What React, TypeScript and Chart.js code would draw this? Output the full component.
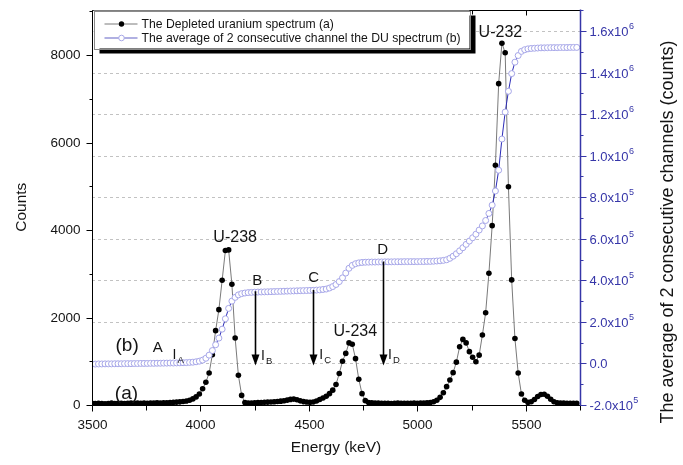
import React, { useEffect, useRef } from 'react';
import { Chart, registerables } from 'chart.js';

Chart.register(...registerables);

// ---------- data ----------
const energyKeV = [
  3500, 3515, 3530, 3545, 3560, 3575, 3590, 3605, 3620, 3635,
  3650, 3665, 3680, 3695, 3710, 3725, 3740, 3755, 3770, 3785,
  3800, 3815, 3830, 3845, 3860, 3875, 3890, 3905, 3920, 3935,
  3950, 3965, 3980, 3995, 4010, 4025, 4040, 4055, 4070, 4085,
  4100, 4115, 4130, 4145, 4160, 4175, 4190, 4205, 4220, 4235,
  4250, 4265, 4280, 4295, 4310, 4325, 4340, 4355, 4370, 4385,
  4400, 4415, 4430, 4445, 4460, 4475, 4490, 4505, 4520, 4535,
  4550, 4565, 4580, 4595, 4610, 4625, 4640, 4655, 4670, 4685,
  4700, 4715, 4730, 4745, 4760, 4775, 4790, 4805, 4820, 4835,
  4850, 4865, 4880, 4895, 4910, 4925, 4940, 4955, 4970, 4985,
  5000, 5015, 5030, 5045, 5060, 5075, 5090, 5105, 5120, 5135,
  5150, 5165, 5180, 5195, 5210, 5225, 5240, 5255, 5270, 5285,
  5300, 5315, 5330, 5345, 5360, 5375, 5390, 5405, 5420, 5435,
  5450, 5465, 5480, 5495, 5510, 5525, 5540, 5555, 5570, 5585,
  5600, 5615, 5630, 5645, 5660, 5675, 5690, 5705, 5720, 5735,
];

const duSpectrum = [
  38, 32, 40, 35, 30, 36, 42, 34, 38, 41,
  36, 40, 44, 37, 42, 39, 45, 41, 47, 43,
  48, 45, 52, 50, 56, 60, 66, 72, 80, 92,
  110, 140, 185, 250, 370, 520, 730, 1150, 1700, 2180,
  2850, 3530, 3545, 2760, 1530, 680, 220, 55, 42, 46,
  50, 55, 58, 62, 66, 70, 74, 80, 88, 96,
  112, 128, 135, 120, 95, 78, 68, 64, 70, 90,
  125, 160, 200, 260, 340, 470, 720, 1000, 1180, 1420,
  1390, 1060, 590, 260, 100, 58, 48, 44, 42, 40,
  38, 40, 36, 39, 42, 38, 41, 37, 40, 43,
  40, 44, 46, 50, 58, 75, 110, 175, 280, 420,
  570, 740, 980, 1330, 1500, 1420, 1220, 1090, 990, 1140,
  1600, 2110, 3010, 4100, 5480, 7345, 8270, 8050, 4990, 2860,
  1520, 730, 250, 110, 60, 75, 125, 195, 240, 245,
  200, 130, 75, 52, 45, 42, 40, 38, 40, 37,
];

const avgTwoChannels = [
  -3000, -3000, -2500, -2500, -2000, -2000, -2000, -1500, -1500, -1500,
  -1000, -1000, -1000, -500, -500, 0, 0, 0, 500, 500,
  1000, 1000, 1500, 1500, 2000, 2000, 2500, 3000, 3500, 4000,
  5000, 6000, 8000, 11000, 16000, 25000, 40000, 62000, 90000, 122000,
  165000, 215000, 265000, 300000, 318000, 330000, 336000, 339000, 341000, 342000,
  343000, 343500, 344000, 344500, 345000, 345500, 346000, 346500, 347000, 347500,
  348000, 348500, 349000, 349500, 350000, 350500, 351000, 351500, 352000, 353000,
  354000, 356000, 358000, 363000, 370000, 380000, 394000, 412000, 435000, 458000,
  472000, 480000, 484000, 486000, 487000, 487500, 488000, 488000, 488500, 488500,
  489000, 489000, 489000, 489500, 489500, 489500, 490000, 490000, 490000, 490000,
  490000, 490500, 490500, 491000, 491000, 492000, 493000, 494000, 496000, 499000,
  506000, 516000, 528000, 542000, 557000, 573000, 589000, 605000, 622000, 642000,
  662000, 688000, 722000, 762000, 830000, 930000, 1080000, 1210000, 1310000, 1395000,
  1450000, 1482000, 1502000, 1510000, 1514000, 1516000, 1517000, 1518000, 1519000, 1519000,
  1519500, 1520000, 1520000, 1520000, 1520500, 1520500, 1520500, 1521000, 1521000, 1521000,
];

const xTicks = [3500, 4000, 4500, 5000, 5500];
const xMinorTicks = [3750, 4250, 4750, 5250, 5750];
const leftTicks = [0, 2000, 4000, 6000, 8000];
const leftMinorTicks = [1000, 3000, 5000, 7000, 9000];
const rightTicks = [-200000, 0, 200000, 400000, 600000, 800000, 1000000, 1200000, 1400000, 1600000];
const rightTickLabels = [
  ['-2.0x10', '5'], ['0.0', ''], ['2.0x10', '5'], ['4.0x10', '5'], ['6.0x10', '5'],
  ['8.0x10', '5'], ['1.0x10', '6'], ['1.2x10', '6'], ['1.4x10', '6'], ['1.6x10', '6'],
];
const rightMinorTicks = [-100000, 100000, 300000, 500000, 700000, 900000, 1100000, 1300000, 1500000, 1700000];

const seriesNames = ['The Depleted uranium spectrum (a)', 'The average of 2 consecutive channel the DU spectrum (b)'];

// annotations (energy keV, counts on left axis)
const curveTags = [
  { text: '(b)', e: 3662, c: 1345 },
  { text: '(a)', e: 3659, c: 267 },
];
const peakNames = [
  { text: 'U-238', e: 4160, c: 3830 },
  { text: 'U-234', e: 4714, c: 1670 },
  { text: 'U-232', e: 5383, c: 8510 },
];
const levelLetters = [
  { text: 'A', e: 3803, c: 1300 },
  { text: 'B', e: 4262, c: 2840 },
  { text: 'C', e: 4522, c: 2896 },
  { text: 'D', e: 4840, c: 3550 },
];
const intensityTags = [
  { sub: 'A', e: 3880, c: 1130 },
  { sub: 'B', e: 4288, c: 1110 },
  { sub: 'C', e: 4557, c: 1130 },
  { sub: 'D', e: 4874, c: 1130 },
];
const levelArrows = [
  { e: 4250, from: 2600, to: 905 },
  { e: 4520, from: 2630, to: 905 },
  { e: 4840, from: 3280, to: 905 },
];

const FONT = '"Liberation Sans", Arial, Helvetica, sans-serif';
const BLUE = '#3636a8';
const TXT = '#141414';

function line(ctx: CanvasRenderingContext2D, x1: number, y1: number, x2: number, y2: number) {
  ctx.beginPath();
  ctx.moveTo(x1, y1);
  ctx.lineTo(x2, y2);
  ctx.stroke();
}

const decorPlugin = {
  id: 'decor',
  beforeDatasetsDraw(chart: any) {
    const { ctx, chartArea: a, scales } = chart;
    const y2 = scales.y2;
    ctx.save();
    ctx.strokeStyle = '#c2c2c2';
    ctx.lineWidth = 1;
    ctx.setLineDash([3, 3]);
    rightTicks.forEach((v) => {
      if (v <= y2.min) return;
      const py = Math.round(y2.getPixelForValue(v)) + 0.5;
      line(ctx, a.left, py, a.right, py);
    });
    ctx.restore();
  },
  afterDatasetsDraw(chart: any) {
    const { ctx, chartArea: a, scales } = chart;
    const { x, y, y2 } = scales;
    ctx.save();
    ctx.setLineDash([]);
    const L = Math.round(a.left) + 0.5;
    const R = Math.round(a.right) + 0.5;
    const T = Math.round(a.top) + 0.5;
    const B = Math.round(a.bottom) + 0.5;

    // frame
    ctx.strokeStyle = '#000';
    ctx.lineWidth = 1;
    line(ctx, L, T, L, B);
    line(ctx, L, B, R, B);
    line(ctx, L, T, R, T);

    // x ticks
    ctx.fillStyle = TXT;
    ctx.font = `13.5px ${FONT}`;
    ctx.textAlign = 'center';
    ctx.textBaseline = 'middle';
    xTicks.forEach((v) => {
      const px = Math.round(x.getPixelForValue(v)) + 0.5;
      line(ctx, px, B, px, B + 6);
      line(ctx, px, T, px, T + 5);
      ctx.fillText(String(v), px, B + 20);
    });
    xMinorTicks.forEach((v) => {
      const px = Math.round(x.getPixelForValue(v)) + 0.5;
      line(ctx, px, B, px, B + 5);
      line(ctx, px, T, px, T + 4);
    });

    // left ticks
    ctx.textAlign = 'right';
    leftTicks.forEach((v) => {
      const py = Math.round(y.getPixelForValue(v)) + 0.5;
      line(ctx, L - 6, py, L, py);
      ctx.fillText(String(v), L - 12, py);
    });
    leftMinorTicks.forEach((v) => {
      if (v > y.max) return;
      const py = Math.round(y.getPixelForValue(v)) + 0.5;
      line(ctx, L - 3, py, L, py);
    });

    // right axis
    ctx.strokeStyle = BLUE;
    ctx.lineWidth = 1.5;
    line(ctx, R, a.top, R, a.bottom + 0.5);
    ctx.lineWidth = 1;
    ctx.fillStyle = BLUE;
    ctx.textAlign = 'left';
    rightTicks.forEach((v, i) => {
      const py = Math.round(y2.getPixelForValue(v)) + 0.5;
      line(ctx, R, py, R + 6, py);
      const [main, sup] = rightTickLabels[i];
      ctx.font = `13px ${FONT}`;
      ctx.fillText(main, R + 9, py + 1);
      if (sup) {
        const w = ctx.measureText(main).width;
        ctx.font = `9px ${FONT}`;
        ctx.fillText(sup, R + 9 + w + 0.5, py - 5);
      }
    });
    rightMinorTicks.forEach((v) => {
      if (v > y2.max) return;
      const py = Math.round(y2.getPixelForValue(v)) + 0.5;
      line(ctx, R, py, R + 3, py);
    });

    // axis titles
    ctx.fillStyle = TXT;
    ctx.font = `15.5px ${FONT}`;
    ctx.textAlign = 'center';
    ctx.textBaseline = 'middle';
    ctx.fillText('Energy (keV)', (a.left + a.right) / 2, 448);
    ctx.save();
    ctx.translate(22, (a.top + a.bottom) / 2);
    ctx.rotate(-Math.PI / 2);
    ctx.fillText('Counts', 0, 0);
    ctx.restore();
    ctx.save();
    ctx.translate(668, 232);
    ctx.rotate(-Math.PI / 2);
    ctx.font = `18px ${FONT}`;
    ctx.fillText('The average of 2 consecutive channels (counts)', 0, 0);
    ctx.restore();

    // annotations
    ctx.fillStyle = TXT;
    ctx.strokeStyle = '#000';
    ctx.font = `19px ${FONT}`;
    curveTags.forEach((t) => ctx.fillText(t.text, x.getPixelForValue(t.e), y.getPixelForValue(t.c)));
    ctx.font = `16px ${FONT}`;
    peakNames.forEach((t) => ctx.fillText(t.text, x.getPixelForValue(t.e), y.getPixelForValue(t.c)));
    ctx.font = `15px ${FONT}`;
    levelLetters.forEach((t) => ctx.fillText(t.text, x.getPixelForValue(t.e), y.getPixelForValue(t.c)));
    intensityTags.forEach((t) => {
      const px = x.getPixelForValue(t.e);
      const py = y.getPixelForValue(t.c);
      ctx.font = `14px ${FONT}`;
      ctx.textAlign = 'center';
      ctx.fillText('I', px, py);
      ctx.font = `9.5px ${FONT}`;
      ctx.textAlign = 'left';
      ctx.fillText(t.sub, px + 3, py + 5);
      ctx.textAlign = 'center';
    });
    ctx.lineWidth = 1.6;
    ctx.fillStyle = '#000';
    levelArrows.forEach((ar) => {
      const px = Math.round(x.getPixelForValue(ar.e)) + 0.5;
      const y1 = y.getPixelForValue(ar.from);
      const y2p = y.getPixelForValue(ar.to);
      line(ctx, px, y1, px, y2p - 8);
      ctx.beginPath();
      ctx.moveTo(px, y2p);
      ctx.lineTo(px - 4, y2p - 11);
      ctx.lineTo(px + 4, y2p - 11);
      ctx.closePath();
      ctx.fill();
    });

    // legend
    const lx = a.left + 1.5;
    const ly = a.top + 1;
    const lw = 376;
    const lh = 38;
    ctx.fillStyle = '#000';
    ctx.fillRect(lx + 6, ly + 5, lw, lh);
    ctx.fillStyle = '#fff';
    ctx.fillRect(lx, ly, lw, lh);
    ctx.strokeStyle = '#8a8a8a';
    ctx.lineWidth = 1;
    ctx.strokeRect(Math.round(lx) + 0.5, Math.round(ly) + 0.5, lw, lh);
    const rows = [ly + 13.5, ly + 27.5];
    ctx.strokeStyle = '#7a7a7a';
    line(ctx, lx + 11, rows[0], lx + 44, rows[0]);
    ctx.fillStyle = '#000';
    ctx.beginPath();
    ctx.arc(lx + 28, rows[0], 2.7, 0, Math.PI * 2);
    ctx.fill();
    ctx.strokeStyle = '#9696d8';
    ctx.lineWidth = 1.3;
    line(ctx, lx + 11, rows[1], lx + 44, rows[1]);
    ctx.fillStyle = '#fff';
    ctx.beginPath();
    ctx.arc(lx + 28, rows[1], 2.8, 0, Math.PI * 2);
    ctx.fill();
    ctx.strokeStyle = '#a8a8e8';
    ctx.lineWidth = 1;
    ctx.stroke();
    ctx.fillStyle = TXT;
    ctx.font = `12.2px ${FONT}`;
    ctx.textAlign = 'left';
    ctx.textBaseline = 'middle';
    ctx.fillText(seriesNames[0], lx + 48, rows[0] + 0.5);
    ctx.fillText(seriesNames[1], lx + 48, rows[1] + 0.5);

    ctx.restore();
  },
};

export default function App() {
  const canvasRef = useRef<HTMLCanvasElement | null>(null);

  useEffect(() => {
    document.body.style.margin = '0';
    const canvas = canvasRef.current;
    if (!canvas) return;
    const chart = new Chart(canvas, {
      type: 'line',
      data: {
        datasets: [
          {
            label: seriesNames[1],
            data: energyKeV.map((e, i) => ({ x: e, y: avgTwoChannels[i] })),
            yAxisID: 'y2',
            borderColor: '#2c2cb8',
            borderWidth: 1,
            pointRadius: 3,
            pointBorderWidth: 1,
            pointBorderColor: '#a6a6e8',
            pointBackgroundColor: '#ffffff',
            tension: 0,
            order: 0,
          },
          {
            label: seriesNames[0],
            data: energyKeV.map((e, i) => ({ x: e, y: duSpectrum[i] })),
            yAxisID: 'y',
            borderColor: '#7a7a7a',
            borderWidth: 1,
            pointRadius: 2.8,
            pointBorderWidth: 0,
            pointBackgroundColor: '#000000',
            tension: 0,
            order: 1,
          },
        ],
      },
      options: {
        responsive: false,
        animation: false,
        devicePixelRatio: 1,
        layout: { padding: { left: 92, right: 103, top: 9.5, bottom: 60 } },
        plugins: { legend: { display: false }, tooltip: { enabled: false } },
        scales: {
          x: { type: 'linear', min: 3500, max: 5750, display: false },
          y: { type: 'linear', min: 0, max: 9040, display: false },
          y2: { type: 'linear', position: 'right', min: -200000, max: 1703500, display: false },
        },
      },
      plugins: [decorPlugin],
    } as any);
    return () => chart.destroy();
  }, []);

  return (
    <div style={{ width: 683, height: 465 }}>
      <canvas ref={canvasRef} width={683} height={465} style={{ display: 'block' }} />
    </div>
  );
}
